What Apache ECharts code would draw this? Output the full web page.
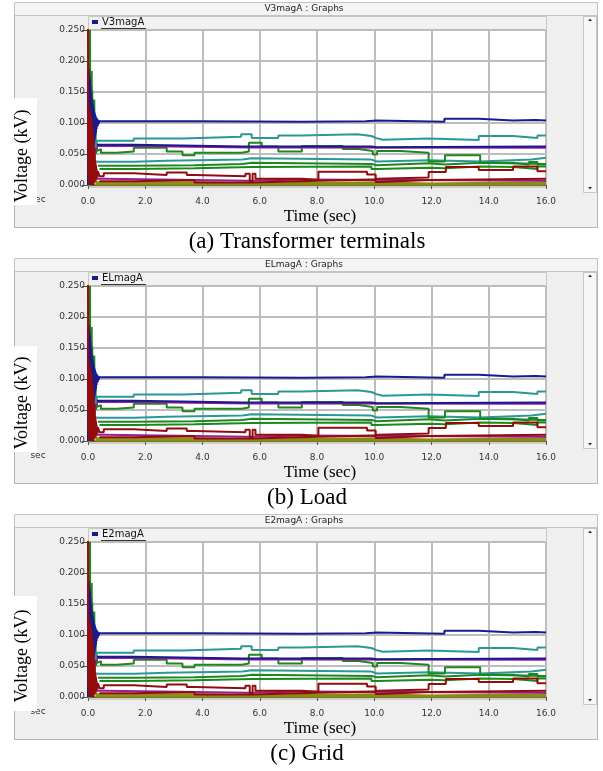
<!DOCTYPE html>
<html>
<head>
<meta charset="utf-8">
<script src="https://cdn.jsdelivr.net/npm/echarts/dist/echarts.min.js"></script>
<style>
  html, body { margin: 0; padding: 0; background: #ffffff; }
  #chart { width: 603px; height: 771px; }
</style>
</head>
<body>
<div id="chart"></div>
<script>
// ---- data: [time (s), voltage (kV)] step points ----
const navyTop = [
  [0,0],[0.01,0.19],[0.02,0.07],[0.03,0.185],[0.04,0.065],[0.05,0.178],[0.06,0.07],[0.07,0.17],
  [0.08,0.06],[0.09,0.16],[0.10,0.065],[0.11,0.15],[0.12,0.06],[0.13,0.142],[0.14,0.065],[0.15,0.135],
  [0.16,0.07],[0.17,0.13],[0.18,0.06],[0.19,0.125],[0.20,0.065],[0.21,0.12],[0.22,0.07],[0.23,0.117],
  [0.24,0.075],[0.25,0.114],[0.26,0.08],[0.27,0.111],[0.28,0.085],[0.29,0.109],[0.30,0.09],[0.32,0.107],
  [0.34,0.095],[0.36,0.105],[0.38,0.099],[0.40,0.103],
  [3.8,0.102],[7.5,0.103],[9.7,0.104],[10.1,0.102],[12.45,0.107],[13.65,0.104],[14.85,0.105],
  [15.65,0.104],[16,0.104]
];
const tealTop = [
  [0,0],[0.10,0.0],[0.12,0.10],[0.15,0.04],[0.18,0.09],[0.20,0.05],[0.23,0.08],[0.26,0.06],
  [0.30,0.0715],[1.6,0.075],[3.3,0.078],[5.35,0.082],[5.72,0.076],[6.65,0.080],[7.47,0.082],
  [9.4,0.079],[9.9,0.076],[10.05,0.073],[10.3,0.075],[11.9,0.0725],[13.65,0.079],[14.85,0.076],
  [15.7,0.080],[16,0.080]
];
const navyMid = [
  [0.28,0.065],[1.6,0.062],[5.4,0.062],[9.9,0.061],[10.1,0.062],[16,0.062]
];
const purpleMid = [
  [0,0],[0.10,0.02],[0.12,0.09],[0.15,0.03],[0.20,0.08],[0.25,0.05],[0.30,0.063],
  [1.6,0.0605],[5.6,0.060],[16,0.060]
];
const greenTop = [
  [0,0],[0.06,0.0],[0.07,0.25],[0.08,0.02],[0.13,0.184],[0.14,0.03],[0.15,0.153],[0.16,0.04],
  [0.22,0.138],[0.23,0.05],[0.26,0.09],[0.28,0.05],[0.30,0.07],[0.32,0.055],[0.35,0.058],
  [0.45,0.052],[1.0,0.054],[1.6,0.060],[2.75,0.054],[3.3,0.048],[3.72,0.052],[5.37,0.054],
  [5.62,0.068],[6.07,0.062],[6.65,0.054],[7.47,0.063],[8.9,0.058],[9.45,0.055],[9.95,0.049],
  [10.1,0.055],[10.9,0.052],[11.9,0.038],[12.47,0.048],[13.7,0.036],[14.85,0.033],[15.4,0.037],
  [15.7,0.033],[16,0.033]
];
const tealLow = [
  [0.30,0.0375],[1.6,0.039],[2.75,0.041],[5.4,0.043],[5.72,0.041],[9.9,0.038],[10.1,0.040],
  [11.9,0.038],[13.7,0.041],[15.5,0.044],[16,0.044]
];
const greenMid = [
  [0.35,0.031],[1.6,0.032],[3.72,0.034],[5.4,0.036],[5.72,0.034],[9.9,0.032],[10.1,0.035],
  [11.9,0.033],[12.47,0.036],[13.7,0.034],[16,0.034]
];
const greenLow = [
  [0.40,0.026],[1.6,0.027],[3.72,0.029],[5.72,0.030],[9.9,0.026],[10.1,0.028],[11.9,0.027],
  [12.47,0.030],[13.7,0.029],[14.85,0.026],[15.7,0.030],[16,0.030]
];
const redTop = [
  [0,0.26],[0.01,0.02],[0.02,0.13],[0.03,0.0],[0.04,0.125],[0.05,0.01],[0.06,0.12],[0.07,0.0],
  [0.08,0.115],[0.09,0.005],[0.10,0.11],[0.11,0.0],[0.12,0.105],[0.13,0.01],[0.14,0.10],[0.15,0.0],
  [0.16,0.09],[0.17,0.005],[0.18,0.08],[0.19,0.0],[0.20,0.07],[0.21,0.01],[0.22,0.06],[0.23,0.005],
  [0.24,0.05],[0.25,0.01],[0.26,0.04],[0.27,0.008],[0.28,0.032],[0.29,0.01],[0.30,0.026],[0.32,0.012],
  [0.35,0.022],[0.40,0.014],[0.55,0.019],[1.6,0.016],[2.75,0.020],[3.45,0.016],[3.75,0.014],
  [5.5,0.018],[5.65,0.006],[5.75,0.018],[5.85,0.010],[7.47,0.008],[8.05,0.0215],[9.75,0.017],
  [10.05,0.010],[10.15,0.012],[11.9,0.021],[12.5,0.029],[13.65,0.024],[14.85,0.030],[15.7,0.022],
  [16,0.022]
];
const redLow = [
  [0.40,0.006],[1.6,0.008],[3.72,0.004],[5.72,0.007],[8.05,0.009],[10.05,0.005],[10.15,0.008],
  [11.9,0.009],[13.65,0.010],[16,0.010]
];
const purpleLow = [
  [0.30,0.010],[0.6,0.007],[5.6,0.009],[7.47,0.007],[16,0.008]
];
const oliveHigh = [
  [0.10,0.0],[0.15,0.012],[0.20,0.004],[0.25,0.010],[0.30,0.004],[3.72,0.002],[5.72,0.004],
  [10.05,0.002],[11.9,0.004],[16,0.004]
];
const oliveLow = [
  [0.25,0.001],[16,0.001]
];

// axis ticks
const timeTicks = [0, 2, 4, 6, 8, 10, 12, 14, 16];
const voltTicks = [0, 0.05, 0.10, 0.15, 0.20, 0.25];

// panel names and captions
const panelNames = ['V3magA', 'ELmagA', 'E2magA'];
const panelCaptions = ['(a) Transformer terminals', '(b) Load', '(c) Grid'];

// ---- styling ----
const C = {
  navy: '#1a1a8c', teal: '#2a9898', purple: '#9a1c9a',
  green: '#1c881c', red: '#930c0c', olive: '#8a8a12'
};
// [points, colour, width] drawn bottom to top
const traces = [
  [oliveLow, C.olive, 2.5], [oliveHigh, C.olive, 2.5], [purpleLow, C.purple, 2], [redLow, C.red, 2],
  [greenLow, C.green, 2], [greenMid, C.green, 2], [tealLow, C.teal, 2], [greenTop, C.green, 2],
  [purpleMid, C.purple, 2], [navyMid, C.navy, 2], [tealTop, C.teal, 2], [navyTop, C.navy, 2],
  [redTop, C.red, 2]
];

const panelTops = [0, 256, 512];
const vBoxes = [[98, 205, 156], [346, 452, 403], [596, 711, 656]];
const PL = 88, PW = 458, PH = 155;
const sans = 'DejaVu Sans';
const serif = 'Liberation Serif';

const grids = [], xAxes = [], yAxes = [], series = [], graphics = [];

panelTops.forEach((T, p) => {
  grids.push({ left: PL, top: T + 30, width: PW, height: PH, containLabel: false });
  xAxes.push({
    type: 'value', gridIndex: p, min: 0, max: 16, interval: 2, offset: 8,
    axisLine: { show: true, lineStyle: { color: '#555', width: 1 } },
    axisTick: { show: true, length: 4, lineStyle: { color: '#555' } },
    axisLabel: { fontFamily: sans, fontSize: 9, color: '#333', margin: 4,
      formatter: v => timeTicks.includes(v) ? v.toFixed(1) : '' },
    splitLine: { show: true, lineStyle: { color: '#bdbdbd', width: 2 } }
  });
  yAxes.push({
    type: 'value', gridIndex: p, min: 0, max: 0.25, interval: 0.05,
    axisLine: { show: false },
    axisTick: { show: true, length: 6, lineStyle: { color: '#555' } },
    axisLabel: { fontFamily: sans, fontSize: 9, color: '#333', margin: 3,
      formatter: v => voltTicks.some(t => Math.abs(t - v) < 1e-9) ? v.toFixed(3) : '' },
    splitLine: { show: true, lineStyle: { color: '#bdbdbd', width: 2 } }
  });
  traces.forEach(([d, col, w]) => {
    series.push({
      type: 'line', xAxisIndex: p, yAxisIndex: p, data: d, step: 'end',
      showSymbol: false, symbol: 'none', silent: true,
      lineStyle: { color: col, width: w }
    });
  });

  // window frame
  graphics.push(
    { type: 'rect', z: -5, shape: { x: 14.5, y: T + 2.5, width: 583, height: 225 },
      style: { fill: '#efefef', stroke: '#b4b4b4', lineWidth: 1 } },
    { type: 'rect', z: -4, shape: { x: 14.5, y: T + 2.5, width: 583, height: 13 },
      style: { fill: '#f4f4f4', stroke: '#c4c4c4', lineWidth: 1 } },
    { type: 'text', z: 5, style: { x: 304, y: T + 9, text: panelNames[p] + ' : Graphs',
      font: '9px "' + sans + '"', fill: '#222', align: 'center', verticalAlign: 'middle' } },
    { type: 'rect', z: -4, shape: { x: 88.5, y: T + 16.5, width: 458, height: 14 },
      style: { fill: '#f1f1f1', stroke: '#c6c6c6', lineWidth: 1 } },
    { type: 'rect', z: -3, shape: { x: 88, y: T + 30, width: 458, height: 158 },
      style: { fill: '#ffffff' } },
    { type: 'rect', z: -2, shape: { x: 88, y: T + 185, width: 458, height: 3 },
      style: { fill: '#cdcdcd' } },
    { type: 'rect', z: 5, shape: { x: 92, y: T + 20, width: 6, height: 4 },
      style: { fill: C.navy } },
    { type: 'text', z: 5, style: { x: 102, y: T + 22, text: panelNames[p],
      font: '10px "' + sans + '"', fill: '#111', verticalAlign: 'middle' } },
    { type: 'line', z: 5, shape: { x1: 101, y1: T + 28.5, x2: 146, y2: T + 28.5 },
      style: { stroke: '#333', lineWidth: 1 } },
    // scrollbar
    { type: 'rect', z: -4, shape: { x: 583.5, y: T + 16.5, width: 13, height: 176 },
      style: { fill: '#f7f7f7', stroke: '#c6c6c6', lineWidth: 1 } },
    { type: 'polygon', z: 5, shape: { points: [[588, T + 21], [592, T + 21], [590, T + 18.5]] },
      style: { fill: '#333' } },
    { type: 'polygon', z: 5, shape: { points: [[588, T + 187], [592, T + 187], [590, T + 189.5]] },
      style: { fill: '#333' } },
    { type: 'text', z: 5, style: { x: 38, y: T + 200, text: 'sec',
      font: '9px "' + sans + '"', fill: '#333', align: 'center', verticalAlign: 'middle' } },
    // axis titles and caption
    { type: 'rect', z: 10, shape: { x: 8, y: vBoxes[p][0], width: 29, height: vBoxes[p][1] - vBoxes[p][0] },
      style: { fill: '#ffffff' } },
    { type: 'text', z: 11, x: 22, y: vBoxes[p][2], rotation: Math.PI / 2,
      style: { x: 0, y: 0, text: 'Voltage (kV)', font: '18px "' + serif + '"', fill: '#000',
        align: 'center', verticalAlign: 'middle' } },
    { type: 'text', z: 11, style: { x: 320, y: T + 217, text: 'Time (sec)',
      font: '17px "' + serif + '"', fill: '#000', align: 'center', verticalAlign: 'middle' } },
    { type: 'text', z: 11, style: { x: 307, y: T + 242, text: panelCaptions[p],
      font: '23px "' + serif + '"', fill: '#000', align: 'center', verticalAlign: 'middle' } }
  );
});

const chart = echarts.init(document.getElementById('chart'), null, { renderer: 'canvas' });
chart.setOption({
  animation: false,
  backgroundColor: '#ffffff',
  grid: grids,
  xAxis: xAxes,
  yAxis: yAxes,
  series: series,
  graphic: { elements: graphics }
});
</script>
</body>
</html>
